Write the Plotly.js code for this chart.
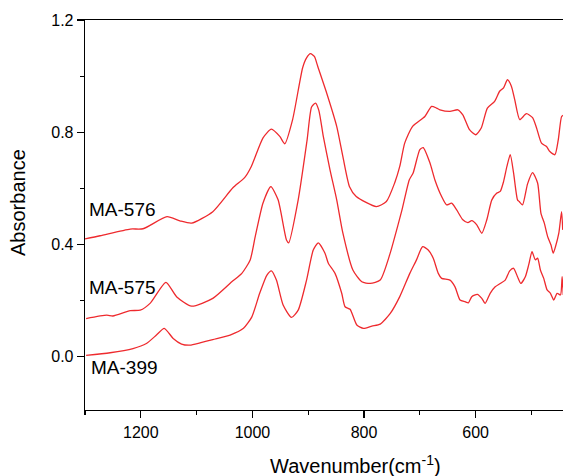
<!DOCTYPE html>
<html>
<head>
<meta charset="utf-8">
<script src="https://cdn.plot.ly/plotly-3.0.1.min.js"></script>
<style>html,body{margin:0;padding:0;background:#fff;overflow:hidden}</style>
</head>
<body>
<div id="chart" style="width:563px;height:476px"></div>
<script>
// Wavenumber (cm-1) and absorbance values
const wn576 = [1300,1273,1219,1196,1153,1130,1109,1071,1035,1014,1002,981,966,951,942,928,910,903,896,889,883,867,849,838,826,814,778,760,745,736,727,713,691,679,670,664,646,632,623,611,600,590,579,566,557,550,543,536,530,521,509,498,491,482,473,467,458,452,446,443];
const ab576 = [0.420,0.431,0.455,0.456,0.499,0.484,0.476,0.517,0.602,0.638,0.678,0.780,0.811,0.785,0.759,0.845,1.030,1.065,1.080,1.070,1.035,0.940,0.821,0.714,0.606,0.571,0.535,0.553,0.620,0.678,0.762,0.821,0.856,0.892,0.886,0.880,0.874,0.880,0.862,0.809,0.791,0.815,0.886,0.910,0.946,0.958,0.987,0.964,0.916,0.845,0.866,0.852,0.816,0.761,0.749,0.731,0.720,0.773,0.856,0.860];

const wn575 = [1298,1261,1250,1219,1201,1183,1155,1136,1109,1071,1037,1019,1004,995,981,967,954,939,935,918,902,894,887,881,873,861,849,838,820,804,789,771,753,748,732,719,712,700,694,682,673,661,652,643,634,623,614,607,598,589,580,571,562,556,550,544,538,532,525,522,516,507,498,489,483,477,471,465,461,457,451,446,444];
const ab575 = [0.136,0.148,0.145,0.164,0.166,0.191,0.265,0.214,0.180,0.208,0.267,0.297,0.345,0.428,0.548,0.606,0.559,0.416,0.406,0.559,0.773,0.890,0.904,0.878,0.785,0.666,0.559,0.441,0.309,0.267,0.261,0.273,0.370,0.405,0.523,0.630,0.655,0.738,0.745,0.691,0.630,0.571,0.541,0.547,0.523,0.488,0.478,0.485,0.470,0.440,0.488,0.559,0.583,0.589,0.624,0.678,0.720,0.654,0.559,0.553,0.541,0.616,0.656,0.619,0.511,0.476,0.428,0.398,0.369,0.392,0.440,0.517,0.452];

const wn399 = [1298,1255,1214,1190,1172,1158,1142,1127,1112,1094,1071,1040,1016,1001,987,974,966,957,945,930,918,903,891,882,870,864,852,840,834,825,813,801,786,771,753,736,718,706,695,685,676,667,661,646,637,628,619,613,607,597,589,583,574,565,556,547,539,532,525,519,511,505,499,493,489,484,478,472,466,460,454,448,445,443];
const ab399 = [0.005,0.014,0.029,0.047,0.077,0.101,0.065,0.045,0.041,0.049,0.061,0.077,0.101,0.142,0.226,0.291,0.306,0.273,0.184,0.140,0.166,0.273,0.380,0.406,0.369,0.333,0.297,0.226,0.178,0.169,0.113,0.101,0.109,0.116,0.154,0.214,0.297,0.345,0.392,0.380,0.351,0.297,0.279,0.273,0.249,0.202,0.196,0.192,0.214,0.222,0.208,0.190,0.226,0.249,0.261,0.273,0.306,0.315,0.285,0.261,0.285,0.327,0.374,0.345,0.351,0.309,0.279,0.238,0.226,0.202,0.226,0.220,0.285,0.220];

const seriesNames = ['MA-576','MA-575','MA-399'];
const xTickVals = [1200,1000,800,600];
const xMinorVals = [1300,1100,900,700,500];
const yTickVals = [0.0,0.4,0.8,1.2];
const yTickText = ['0.0','0.4','0.8','1.2'];
const yMinorVals = [-0.2,0.2,0.6,1.0];

const lineStyle = {color:'#ee2a2e', width:1.3, shape:'spline', smoothing:0.6};
const data = [
  {x:wn576, y:ab576, name:seriesNames[0], mode:'lines', line:lineStyle},
  {x:wn575, y:ab575, name:seriesNames[1], mode:'lines', line:lineStyle},
  {x:wn399, y:ab399, name:seriesNames[2], mode:'lines', line:lineStyle}
];

const font = {family:'Liberation Sans, Arial, sans-serif', color:'#000'};
const layout = {
  width:563, height:476,
  margin:{l:85, r:0, t:20, b:66},
  paper_bgcolor:'#fff', plot_bgcolor:'#fff',
  showlegend:false,
  font:font,
  xaxis:{
    range:[1300,443.5], showgrid:false, zeroline:false,
    showline:true, linecolor:'#000', linewidth:1.3, mirror:true,
    ticks:'outside', ticklen:7, tickwidth:1.2, tickcolor:'#000',
    tickmode:'array', tickvals:xTickVals,
    tickfont:{family:font.family, size:16, color:'#000'},
    minor:{tickmode:'array', tickvals:xMinorVals, ticks:'outside', ticklen:4, tickwidth:1.2, tickcolor:'#000', showgrid:false}
  },
  yaxis:{
    range:[-0.19,1.2], showgrid:false, zeroline:false,
    showline:true, linecolor:'#000', linewidth:1.3,
    ticks:'outside', ticklen:7, tickwidth:1.2, tickcolor:'#000',
    tickmode:'array', tickvals:yTickVals, ticktext:yTickText,
    tickfont:{family:font.family, size:16, color:'#000'},
    minor:{tickmode:'array', tickvals:yMinorVals, ticks:'outside', ticklen:4, tickwidth:1.2, tickcolor:'#000', showgrid:false}
  },
  annotations:[
    {text:seriesNames[0], xref:'paper', yref:'paper', x:0.004, y:0.513, xanchor:'left', yanchor:'middle', showarrow:false, font:{family:font.family, size:19, color:'#000'}},
    {text:seriesNames[1], xref:'paper', yref:'paper', x:0.004, y:0.315, xanchor:'left', yanchor:'middle', showarrow:false, font:{family:font.family, size:19, color:'#000'}},
    {text:seriesNames[2], xref:'paper', yref:'paper', x:0.008, y:0.108, xanchor:'left', yanchor:'middle', showarrow:false, font:{family:font.family, size:19, color:'#000'}},
    {text:'Absorbance', xref:'paper', yref:'paper', x:-0.14, y:0.531, xanchor:'center', yanchor:'middle', textangle:-90, showarrow:false, font:{family:font.family, size:20, color:'#000'}},
    {text:'Wavenumber(cm<sup>-1</sup>)', xref:'paper', yref:'paper', x:0.565, y:-0.141, xanchor:'center', yanchor:'middle', showarrow:false, font:{family:font.family, size:20, color:'#000'}}
  ]
};
Plotly.newPlot('chart', data, layout, {displayModeBar:false, staticPlot:true});
</script>
</body>
</html>
